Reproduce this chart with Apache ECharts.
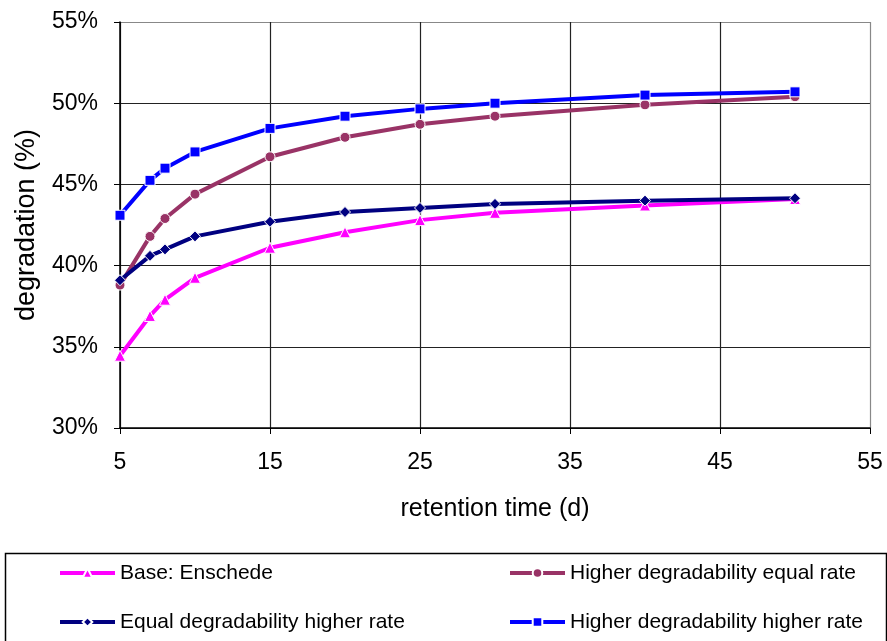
<!DOCTYPE html>
<html><head><meta charset="utf-8">
<script src="https://cdn.jsdelivr.net/npm/echarts@6/dist/echarts.min.js"></script>
<style>html,body{margin:0;padding:0;background:#fff}#c{width:887px;height:641px}</style>
</head><body><div id="c"></div>
<script>
const retentionDays = [5, 7, 8, 10, 15, 20, 25, 30, 40, 50];
const baseEnschede = [34.45, 36.9, 37.9, 39.25, 41.1, 42.05, 42.8, 43.25, 43.7, 44.1];
const higherDegEqualRate = [38.8, 41.8, 42.9, 44.4, 46.7, 47.9, 48.7, 49.2, 49.9, 50.4];
const equalDegHigherRate = [39.1, 40.6, 41.0, 41.8, 42.7, 43.3, 43.55, 43.8, 44.0, 44.15];
const higherDegHigherRate = [43.1, 45.25, 46.0, 47.0, 48.45, 49.2, 49.65, 50.0, 50.5, 50.7];
const seriesNames = ['Base: Enschede', 'Higher degradability equal rate', 'Equal degradability higher rate', 'Higher degradability higher rate'];
const xTicks = [5, 15, 25, 35, 45, 55];
const yTicks = [30, 35, 40, 45, 50, 55];

const FONT = 'Arial, "Liberation Sans", sans-serif';
const pair = (ys) => retentionDays.map((x, i) => [x, ys[i]]);
const colors = ['#FF00FF', '#993366', '#000080', '#0000FF'];
const symbols = ['triangle', 'circle', 'diamond', 'rect'];
const sizes = [11, 10, 11, 10];
const allData = [baseEnschede, higherDegEqualRate, equalDegHigherRate, higherDegHigherRate];

const series = allData.map((d, i) => ({
  name: seriesNames[i], type: 'line', data: pair(d),
  symbol: symbols[i], symbolSize: sizes[i], showAllSymbol: true,
  lineStyle: { color: colors[i], width: 4 },
  itemStyle: { color: colors[i], borderColor: '#fff', borderWidth: 1 },
  emphasis: { disabled: true }, animation: false, z: 2 + i
}));

const gridColorsX = xTicks.map((t, i) => i === xTicks.length - 1 ? '#888' : '#222');
const gridColorsY = yTicks.map((t, i) => i === yTicks.length - 1 ? '#888' : '#222');

const legendPos = [[58, 561], [508, 561], [58, 610], [508, 610]];
const legends = seriesNames.map((n, i) => ({
  data: [n], left: legendPos[i][0], top: legendPos[i][1], padding: 0,
  itemWidth: 55, itemHeight: 12, selectedMode: false,
  lineStyle: { width: 4 },
  textStyle: { fontFamily: FONT, fontSize: 21, color: '#000', lineHeight: 24 }
}));

const chart = echarts.init(document.getElementById('c'), null, { renderer: 'canvas' });
chart.setOption({
  animation: false,
  backgroundColor: '#fff',
  grid: { left: 120, right: 17, top: 22, bottom: 213, show: false },
  xAxis: {
    type: 'value', min: xTicks[0], max: xTicks[xTicks.length - 1], interval: 10,
    name: 'retention time (d)', nameLocation: 'middle', nameGap: 69,
    nameTextStyle: { fontFamily: FONT, fontSize: 25, color: '#000' },
    axisLine: { show: true, lineStyle: { color: '#000', width: 1.5 } },
    axisTick: { show: true, length: 6, lineStyle: { color: '#000' } },
    axisLabel: { fontFamily: FONT, fontSize: 23, color: '#000', margin: 23 },
    splitLine: { show: true, lineStyle: { color: gridColorsX, width: 1.2 } }
  },
  yAxis: {
    type: 'value', min: yTicks[0], max: yTicks[yTicks.length - 1], interval: 5,
    name: 'degradation (%)', nameLocation: 'middle', nameGap: 80,
    nameTextStyle: { fontFamily: FONT, fontSize: 27, color: '#000' },
    axisLine: { show: true, lineStyle: { color: '#000', width: 1.5 } },
    axisTick: { show: true, length: 6, lineStyle: { color: '#000' } },
    axisLabel: { fontFamily: FONT, fontSize: 23, color: '#000', margin: 22, formatter: '{value}%' },
    splitLine: { show: true, lineStyle: { color: gridColorsY, width: 1.2 } }
  },
  legend: legends,
  graphic: [{
    type: 'rect', left: 3, top: 551, silent: true,
    shape: { width: 881, height: 120 },
    style: { fill: 'none', stroke: '#000', lineWidth: 1.5 }, z: -1
  }],
  series: series
});
</script></body></html>
